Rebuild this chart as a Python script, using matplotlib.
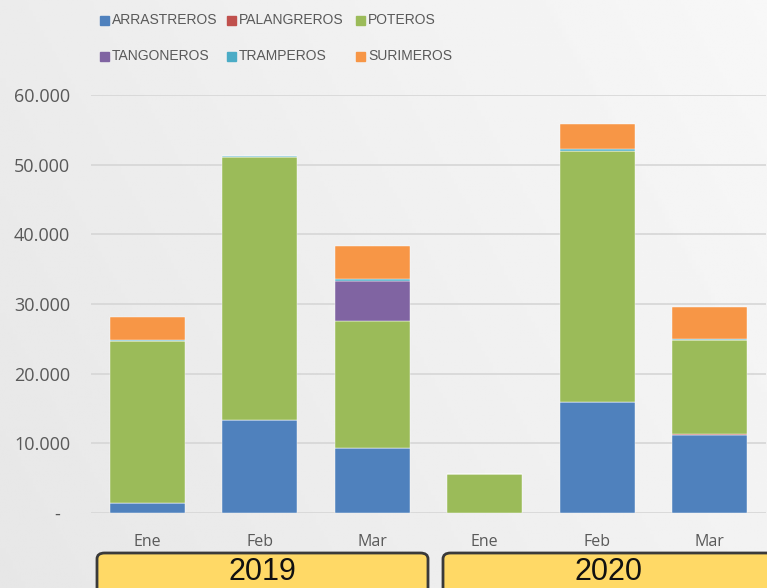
import numpy as np
import matplotlib.pyplot as plt
from matplotlib.patches import FancyBboxPatch, Rectangle
from matplotlib.ticker import FuncFormatter, MultipleLocator

months = ["Ene", "Feb", "Mar", "Ene", "Feb", "Mar"]
years = ["2019", "2020"]

arrastreros = [1500, 13400, 9400, 0, 16000, 11200]
palangreros = [0, 0, 0, 0, 0, 150]
poteros = [23200, 37700, 18150, 5600, 36000, 13500]
tangoneros = [0, 0, 5800, 0, 0, 0]
tramperos = [100, 200, 300, 0, 300, 150]
surimeros = [3400, 0, 4700, 0, 3500, 4500]

series = [
    ("ARRASTREROS", arrastreros, "#4F81BD"),
    ("PALANGREROS", palangreros, "#C0504D"),
    ("POTEROS", poteros, "#9BBB59"),
    ("TANGONEROS", tangoneros, "#8064A2"),
    ("TRAMPEROS", tramperos, "#4BACC6"),
    ("SURIMEROS", surimeros, "#F79646"),
]

W, H = 767, 588
fig = plt.figure(figsize=(W / 100, H / 100), dpi=100)

# background gradient
bg = fig.add_axes([0, 0, 1, 1], zorder=-10)
xx, yy = np.meshgrid(np.linspace(0, 1, 200), np.linspace(0, 1, 200))
grad = 0.905 + 0.065 * (0.7 * xx + 0.3 * yy)
bg.imshow(grad, cmap="gray", vmin=0, vmax=1, extent=[0, 1, 0, 1], aspect="auto", origin="lower")
bg.axis("off")

ax = fig.add_axes([91 / W, 1 - 513 / H, (766 - 91) / W, (513 - 95) / H])
ax.patch.set_alpha(0)
x = np.arange(len(months))
bottom = np.zeros(len(months))
for name, vals, color in series:
    vals = np.array(vals, dtype=float)
    ax.bar(x, vals, 0.67, bottom=bottom, color=color, edgecolor="#ffffff",
           linewidth=0.3, zorder=3)
    bottom += vals

ax.set_ylim(0, 60000)
ax.set_xlim(-0.5, len(months) - 0.5)
ax.yaxis.set_major_locator(MultipleLocator(10000))
ax.yaxis.set_major_formatter(FuncFormatter(
    lambda v, p: "-  " if v == 0 else f"{int(v):,}".replace(",", ".")))
ax.grid(axis="y", color="#d6d6d6", linewidth=1.2, zorder=0)
for s in ax.spines.values():
    s.set_visible(False)
ax.tick_params(length=0)
ax.tick_params(axis="y", pad=15, labelsize=13, labelcolor="#595959")
ax.tick_params(axis="x", pad=15, labelsize=11.5, labelcolor="#595959")
ax.set_xticks(x, months)
for t in ax.get_yticklabels() + ax.get_xticklabels():
    t.set_fontfamily("Open Sans")

# legend drawn by hand (two rows, three columns)
cols = [100, 227, 356]
rows = [20, 56]
for i, (name, vals, color) in enumerate(series):
    cx = cols[i % 3]
    cy = rows[i // 3]
    fig.add_artist(Rectangle((cx / W, 1 - (cy + 5) / H), 9 / W, 9 / H,
                             transform=fig.transFigure, color=color))
    fig.text((cx + 12) / W, 1 - cy / H, name, fontsize=10, color="#595959",
             family="Liberation Sans", va="center", ha="left")

# year boxes
for (x0, x1), yr in zip([(97, 428), (443, 775)], years):
    box = FancyBboxPatch((x0 / W, 1 - 600 / H), (x1 - x0) / W, (600 - 553) / H,
                         boxstyle="round,pad=0,rounding_size=0.01",
                         transform=fig.transFigure, facecolor="#FFD966",
                         edgecolor="#3a3a3a", linewidth=2)
    fig.add_artist(box)
    fig.text((x0 + x1) / 2 / W, 1 - 572 / H, yr, fontsize=22,
             family="Liberation Sans", color="#111111", ha="center", va="center")

fig.savefig("out.png", dpi=100)
